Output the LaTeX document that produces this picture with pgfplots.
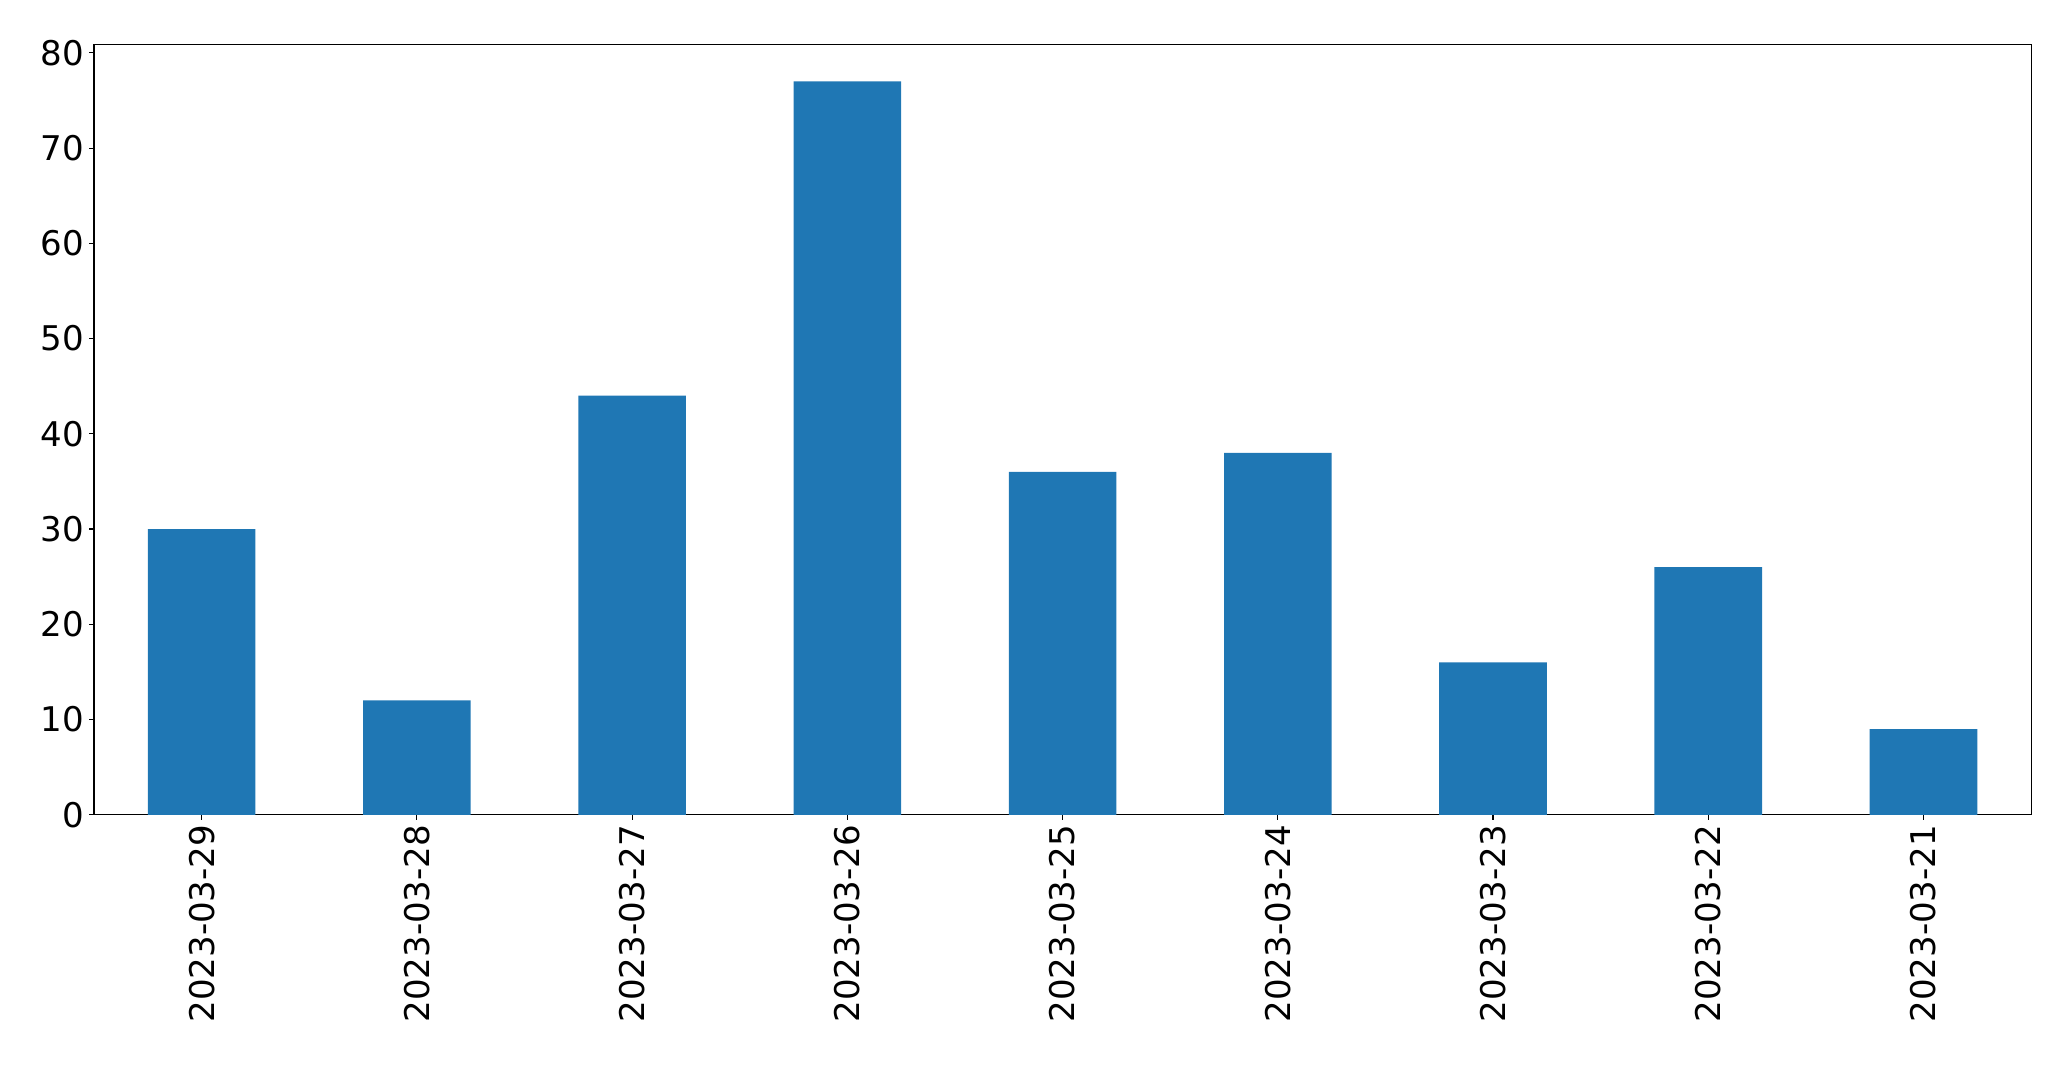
\documentclass[border=0pt]{standalone}
\usepackage{fontspec}
\setmainfont{DejaVu Sans}
\usepackage{pgfplots}
\pgfplotsset{compat=1.18}
\definecolor{mplblue}{HTML}{1F77B4}

\begin{document}
\begin{tikzpicture}
\useasboundingbox (0,0) rectangle (1491pt,768pt);
\begin{axis}[
    at={(67.7pt,181.4pt)}, anchor=south west,
    scale only axis,
    width=1394.6pt, height=554.4pt,
    xmin=-0.5, xmax=8.5,
    ymin=0, ymax=80.85,
    ybar, bar width=0.5, bar shift=0pt,
    xtick={0,1,2,3,4,5,6,7,8},
    xticklabels={2023-03-29,2023-03-28,2023-03-27,2023-03-26,2023-03-25,2023-03-24,2023-03-23,2023-03-22,2023-03-21},
    ytick={0,10,20,30,40,50,60,70,80},
    x tick label style={rotate=90, anchor=east},
    tick align=outside,
    tick pos=left,
    major tick length=3.5pt,
    axis line style={line width=0.8pt},
    tick style={black, line width=0.8pt},
    /pgf/number format/assume math mode=true,
    ticklabel style={font=\fontsize{24.5}{29}\selectfont, inner sep=3.5pt},
]
\addplot[fill=mplblue, draw=none] coordinates {
    (0,30) (1,12) (2,44) (3,77) (4,36) (5,38) (6,16) (7,26) (8,9)
};
\end{axis}
\end{tikzpicture}
\end{document}
